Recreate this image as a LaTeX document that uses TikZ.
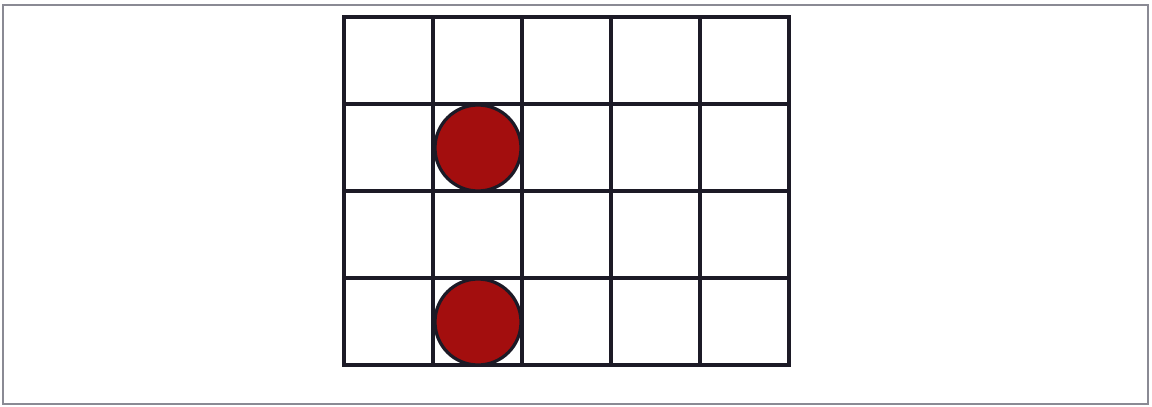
\documentclass[tikz,border=0pt]{standalone}
\usetikzlibrary{positioning}
\definecolor{gridDark}{HTML}{1C1A26}
\definecolor{tokenRed}{HTML}{A30E0E}
\definecolor{frameGray}{HTML}{8A8A94}

\begin{document}
\begin{tikzpicture}[
    x=0.5pt, y=-0.5pt,
    frame/.style={draw=frameGray, line width=0.8pt},
    gridline/.style={draw=gridDark, line width=1.7pt, line cap=rect},
    token/.style={circle, draw=gridDark, fill=tokenRed, line width=1.6pt,
                  minimum size=43pt, inner sep=0pt},
  ]
    \useasboundingbox (0,0) rectangle (1152,407);
    \draw[frame] (3,5) rectangle (1148,404);

    % board: 5 columns x 4 rows
    \foreach \gx in {344,433,522,611,700,789}
      \draw[gridline] (\gx,17) -- (\gx,365);
    \foreach \gy in {17,104,191,278,365}
      \draw[gridline] (344,\gy) -- (789,\gy);

    \node[token] (tokA) at (478,148) {};
    \node[token] (tokB) at (478,322) {};
  \end{tikzpicture}
\end{document}
